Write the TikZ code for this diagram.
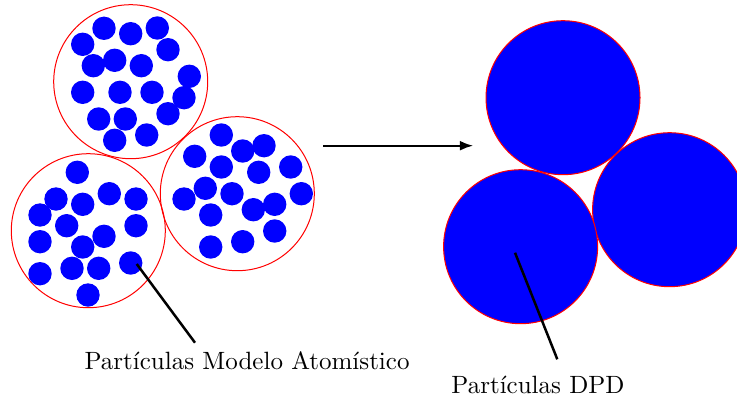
\documentclass[tikz,border=0pt]{standalone}
\usetikzlibrary{arrows.meta}

\begin{document}
\begin{tikzpicture}[
  x=0.4pt, y=-0.4pt,
  font=\fontsize{10}{12}\selectfont,
  shell/.style={draw=red, line width=0.4pt},
  atom/.style={fill=blue},
  bead/.style={draw=red, fill=blue, line width=0.4pt},
  pointer/.style={draw=black, line width=1pt},
  flow/.style={-{Latex[length=5.4pt, width=4pt]}, line width=0.9pt, draw=black}
]
\useasboundingbox (0,0) rectangle (737,399);
\clip (0,0) rectangle (737,399);

\def\R{30.8pt}
\def\r{4.68pt}
\def\dx{432.3}
\def\dy{16}

% Atomistic clusters.
\foreach \cx/\cy in {130.7/81.7, 237.3/193.7, 88.3/230.7}
  \draw[shell] (\cx,\cy) circle[radius=\R];

\foreach \px/\py in {82.7/44.3, 104/28.3, 130.7/33.7, 157.3/28, 168/49.7,
    93.3/65.7, 114.7/60.3, 141.3/65.7, 189.3/76.3, 82.7/92.3, 120/92.3,
    152/92.3, 184/97.7, 98.7/119, 125.3/119, 168/113.7, 114.7/140.3, 146.7/135}
  \fill[atom] (\px,\py) circle[radius=\r];

\foreach \px/\py in {221.3/135, 194.7/156.3, 242.7/151, 264/145.7, 221.3/167,
    258.7/172.3, 290.7/167, 205.3/188.3, 232/193.7, 184/199, 301.3/193.7,
    274.7/204.3, 253.3/209.7, 210.7/215, 274.7/231, 210.7/247, 242.7/241.7}
  \fill[atom] (\px,\py) circle[radius=\r];

\foreach \px/\py in {77.3/172.3, 56/199, 82.7/204.3, 109.3/193.7, 136/199,
    40/215, 66.7/225.7, 136/225.7, 104/236.3, 40/241.7, 82.7/247,
    130.7/263, 40/273.7, 72/268.3, 98.7/268.3, 88/295}
  \fill[atom] (\px,\py) circle[radius=\r];

% Coarse-grained beads.
\foreach \cx/\cy in {130.7/81.7, 237.3/193.7, 88.3/230.7}
  \draw[bead] (\cx+\dx,\cy+\dy) circle[radius=\R];

% Mapping arrow.
\coordinate (flowstart) at (323.3,145.7);
\coordinate (flowend) at (473.3,145.7);
\draw[flow] (flowstart) -- (flowend);

% Labels and pointers.
\node[anchor=base, inner sep=0pt] (atomlabel) at (247,369.3)
  {Partículas Modelo Atomístico};
\coordinate (atomtip) at (136.7,264);
\coordinate (atomfoot) at (195,342.7);
\draw[pointer] (atomtip) -- (atomfoot);

\node[anchor=base, inner sep=0pt] (dpdlabel) at (538,393.3)
  {Partículas DPD};
\coordinate (dpdtip) at (515,252.7);
\coordinate (dpdfoot) at (557.3,359.3);
\draw[pointer] (dpdtip) -- (dpdfoot);

\end{tikzpicture}
\end{document}
